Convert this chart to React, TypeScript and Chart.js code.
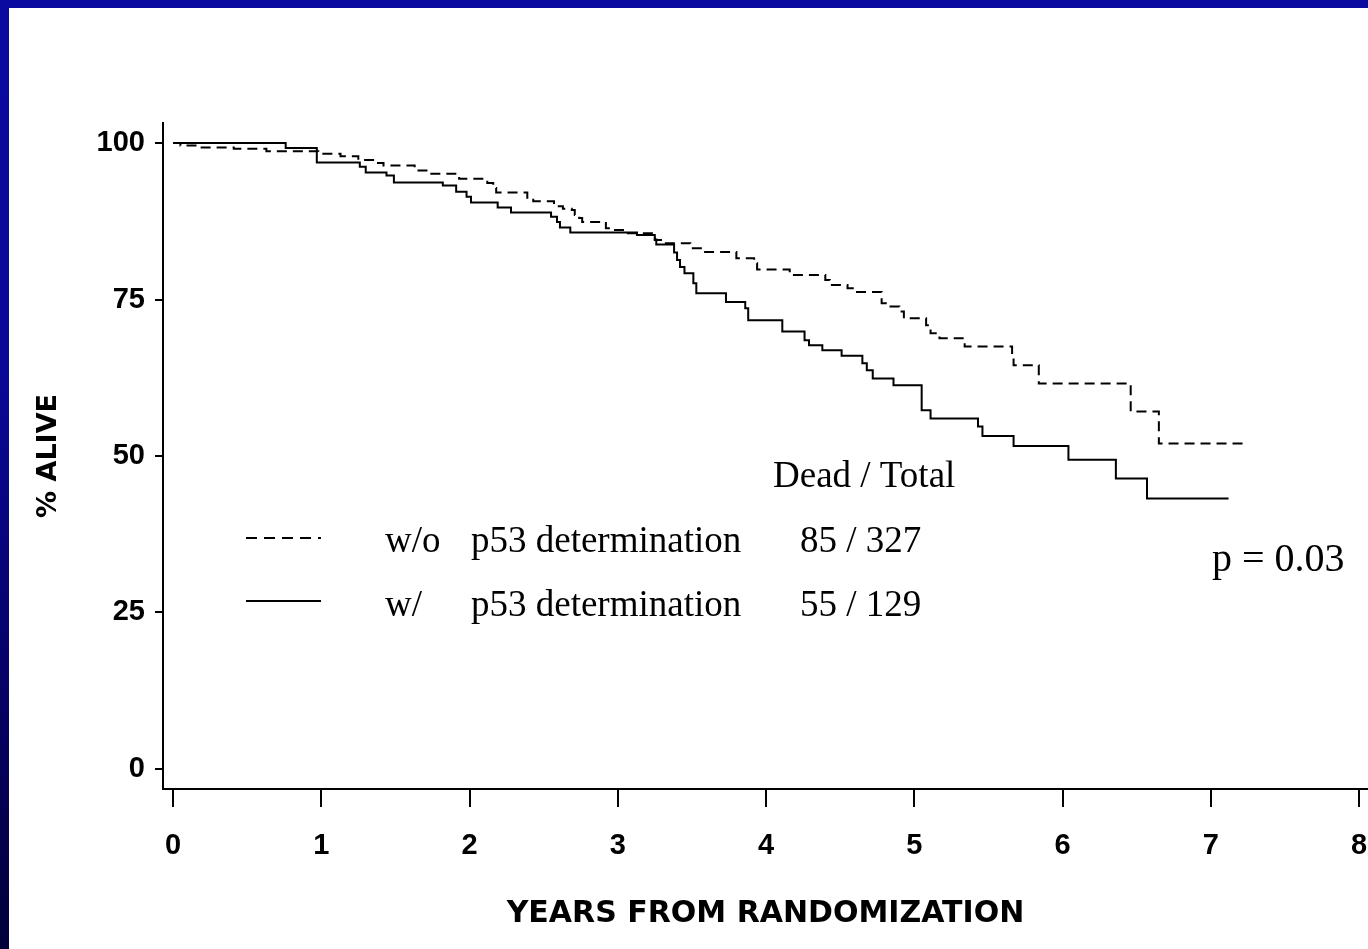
import React, { useEffect, useRef } from "react";
import { Chart, registerables } from "chart.js";

Chart.register(...registerables);

// ---- data ----
const xTickValues = [0, 1, 2, 3, 4, 5, 6, 7, 8];
const yTickValues = [0, 25, 50, 75, 100];

// w/o p53 determination (dashed)
const withoutTimes = [
  0, 0.05, 0.18, 0.41, 0.63, 0.98, 1.13, 1.25, 1.36, 1.42, 1.63, 1.72, 1.93, 2.12, 2.16, 2.18,
  2.39, 2.43, 2.57, 2.63, 2.69, 2.71, 2.74, 2.76, 2.92, 2.97, 3.05, 3.25, 3.31, 3.49, 3.57,
  3.8, 3.92, 3.94, 4.16, 4.4, 4.43, 4.55, 4.6, 4.78, 4.84, 4.9, 4.93, 5.08, 5.11, 5.17, 5.34,
  5.66, 5.67, 5.84, 6.46, 6.65, 7.24,
];
const withoutSurvival = [
  100, 99.6, 99.3, 99.1, 98.7, 98.3, 97.9, 97.3, 96.8, 96.4, 95.6, 95.1, 94.3, 93.6, 92.8, 92.1,
  91.1, 90.7, 89.9, 89.5, 89.3, 88.5, 88.0, 87.4, 86.4, 86.1, 85.6, 84.5, 84.0, 83.2, 82.6,
  81.6, 80.8, 79.8, 78.9, 78.1, 77.3, 76.8, 76.2, 74.4, 73.9, 73.1, 72.0, 70.9, 69.6, 68.8, 67.5,
  65.9, 64.5, 61.6, 57.1, 52.0, 52.0,
];

// w/ p53 determination (solid)
const withTimes = [
  0, 0.76, 0.97, 1.26, 1.3, 1.44, 1.49, 1.82, 1.91, 1.98, 2.01, 2.19, 2.28, 2.55, 2.59, 2.61,
  2.68, 3.13, 3.25, 3.26, 3.38, 3.4, 3.42, 3.45, 3.51, 3.53, 3.73, 3.86, 3.88, 4.11, 4.26, 4.29,
  4.38, 4.51, 4.65, 4.68, 4.72, 4.86, 5.05, 5.11, 5.43, 5.46, 5.67, 6.04, 6.36, 6.57, 7.12,
];
const withSurvival = [
  100, 99.2, 96.9, 96.2, 95.3, 94.8, 93.7, 93.2, 92.2, 91.4, 90.5, 89.7, 88.9, 88.2, 87.4, 86.5,
  85.7, 85.3, 84.6, 83.8, 82.5, 81.3, 80.2, 79.2, 77.6, 76.0, 74.6, 73.6, 71.7, 69.9, 68.5, 67.7,
  66.9, 66.0, 64.8, 63.7, 62.4, 61.3, 57.3, 56.0, 54.7, 53.2, 51.6, 49.4, 46.4, 43.2, 43.2,
];

const legendHeader = "Dead / Total";
const legendGroups = ["w/o", "w/"];
const legendNames = ["p53 determination", "p53 determination"];
const legendCounts = ["85 / 327", "55 / 129"];
const pValueText = "p = 0.03";

const xTitle = "YEARS FROM RANDOMIZATION";
const yTitle = "% ALIVE";

const toPoints = (xs: number[], ys: number[]) => xs.map((x, i) => ({ x, y: ys[i] }));

const legendPlugin = {
  id: "kmLegend",
  afterDraw(chart: any) {
    const ctx = chart.ctx as CanvasRenderingContext2D;
    ctx.save();
    ctx.strokeStyle = "#000";
    ctx.lineWidth = 2;
    // sample lines
    ctx.setLineDash([11, 7]);
    ctx.beginPath();
    ctx.moveTo(246, 538);
    ctx.lineTo(321, 538);
    ctx.stroke();
    ctx.setLineDash([]);
    ctx.beginPath();
    ctx.moveTo(246, 601);
    ctx.lineTo(321, 601);
    ctx.stroke();

    ctx.fillStyle = "#000";
    ctx.textBaseline = "alphabetic";
    ctx.textAlign = "left";
    ctx.font = "37px 'Liberation Serif', 'Times New Roman', serif";
    ctx.fillText(legendHeader, 773, 487);
    const baselines = [552, 616];
    legendGroups.forEach((g, i) => {
      ctx.fillText(g, 385, baselines[i]);
      ctx.fillText(legendNames[i], 471, baselines[i]);
      ctx.fillText(legendCounts[i], 800, baselines[i]);
    });
    ctx.font = "40px 'Liberation Serif', 'Times New Roman', serif";
    ctx.fillText(pValueText, 1212, 571);
    ctx.restore();
  },
};

export default function App() {
  const canvasRef = useRef<HTMLCanvasElement | null>(null);

  useEffect(() => {
    document.body.style.margin = "0";
    const canvas = canvasRef.current;
    if (!canvas) return;
    const tickFont = { family: "'Liberation Sans', Arial, sans-serif", size: 29, weight: "bold" as const };
    const chart = new Chart(canvas, {
      type: "line",
      data: {
        datasets: [
          {
            label: "w/o p53 determination",
            data: toPoints(withoutTimes, withoutSurvival),
            borderColor: "#000",
            borderWidth: 2,
            borderDash: [10, 6],
            stepped: "before",
            pointRadius: 0,
            fill: false,
          },
          {
            label: "w/ p53 determination",
            data: toPoints(withTimes, withSurvival),
            borderColor: "#000",
            borderWidth: 2,
            stepped: "before",
            pointRadius: 0,
            fill: false,
          },
        ],
      },
      options: {
        animation: false,
        responsive: false,
        maintainAspectRatio: false,
        devicePixelRatio: 1,
        layout: { padding: { top: 123, right: 0, left: 0, bottom: 0 } },
        plugins: { legend: { display: false }, tooltip: { enabled: false }, title: { display: false } },
        scales: {
          x: {
            type: "linear",
            min: -0.0675,
            max: 8.0607,
            afterBuildTicks: (axis: any) => {
              axis.ticks = xTickValues.map((v) => ({ value: v }));
            },
            afterFit: (s: any) => {
              s.height = 160;
              s.paddingLeft = 0;
              s.paddingRight = 0;
            },
            grid: { drawOnChartArea: false, drawTicks: true, tickLength: 18, lineWidth: 2, color: "#000" },
            border: { display: true, color: "#000", width: 2 },
            ticks: { color: "#000", font: tickFont, padding: 22, maxRotation: 0, autoSkip: false },
            title: {
              display: true,
              text: xTitle,
              color: "#000",
              font: { family: "'DejaVu Sans', sans-serif", size: 30, weight: "bold" },
              padding: { top: 0, bottom: 17 },
            },
          },
          y: {
            type: "linear",
            min: -3.195,
            max: 103.195,
            afterBuildTicks: (axis: any) => {
              axis.ticks = yTickValues.map((v) => ({ value: v }));
            },
            afterFit: (s: any) => {
              s.width = 163;
              s.paddingTop = 0;
              s.paddingBottom = 0;
            },
            grid: { drawOnChartArea: false, drawTicks: true, tickLength: 8, lineWidth: 2, color: "#000" },
            border: { display: true, color: "#000", width: 2 },
            ticks: { color: "#000", font: tickFont, padding: 10 },
            title: {
              display: true,
              text: yTitle,
              color: "#000",
              font: { family: "'DejaVu Sans', sans-serif", size: 27, weight: "bold" },
              padding: { top: 33, bottom: 0 },
            },
          },
        },
      },
      plugins: [legendPlugin],
    });
    return () => chart.destroy();
  }, []);

  return (
    <div
      style={{
        position: "absolute",
        left: 0,
        top: 0,
        width: 1368,
        height: 949,
        overflow: "hidden",
        background: "linear-gradient(180deg, #0b0aa0 0%, #0a0896 40%, #05005a 80%, #02003a 100%)",
      }}
    >
      <div style={{ position: "absolute", left: 9, top: 8, right: 0, bottom: 0, background: "#fff" }} />
      <canvas
        ref={canvasRef}
        width={1368}
        height={949}
        style={{ position: "absolute", left: 0, top: 0, width: 1368, height: 949 }}
      />
    </div>
  );
}
